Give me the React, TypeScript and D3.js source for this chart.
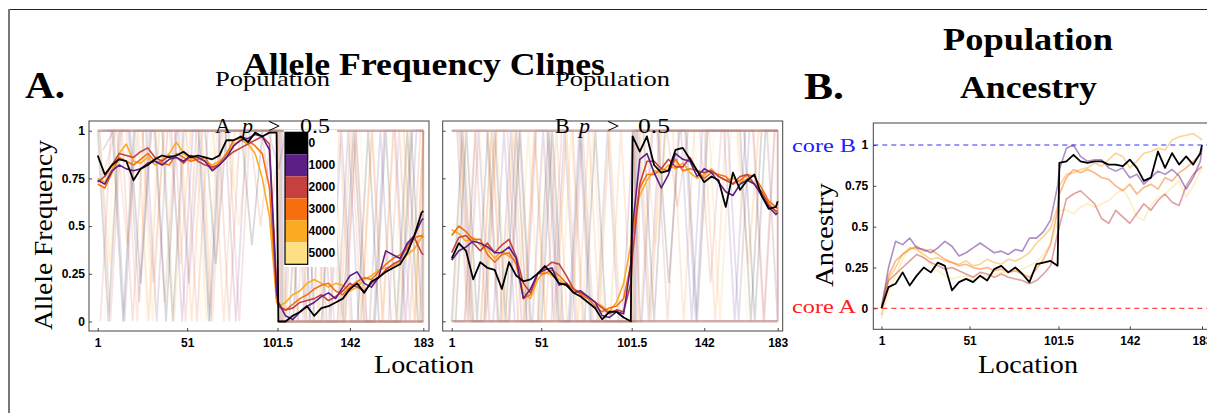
import React, { useEffect, useRef } from "react";
import * as d3 from "d3";

// sampled locations along the transect (dense enough to keep the jaggedness)
const locations = [
  1, 5, 9, 13, 17, 21, 25, 29,
  33, 37, 41, 45, 49, 53, 57, 61,
  65, 69, 73, 77, 81, 85, 89, 93,
  97, 101, 102, 106, 110, 114, 118, 122,
  126, 130, 134, 138, 142, 146, 150, 154,
  158, 162, 166, 170, 174, 178, 182, 183,
];

const generations = ["0", "1000", "2000", "3000", "4000", "5000"];
const genColors = ["#000000", "#5b1f85", "#c6403f", "#f7700f", "#fcaa20", "#fee084"];

const xTicks = [1, 51, 101.5, 142, 183];
const yTicks = [0, 0.25, 0.5, 0.75, 1];
const yTickLabels = ["0", "0.25", "0.5", "0.75", "1"];

// population A, p > 0.5
const a1Gen0 = [
  0.87, 0.77, 0.82, 0.85, 0.84, 0.74, 0.8, 0.82,
  0.85, 0.87, 0.86, 0.87, 0.89, 0.86, 0.87, 0.86,
  0.85, 0.87, 0.95, 0.95, 0.97, 0.94, 0.99, 0.97,
  0.99, 0.99, 0.0, 0.0, 0.03, 0.05, 0.08, 0.03,
  0.07, 0.08, 0.1, 0.12, 0.17, 0.2, 0.15, 0.21,
  0.23, 0.26, 0.28, 0.3, 0.36, 0.45, 0.57, 0.58,
];
const a1Gen1000 = [
  0.74, 0.72, 0.79, 0.82, 0.8, 0.79, 0.8, 0.83,
  0.84, 0.82, 0.85, 0.86, 0.84, 0.87, 0.86, 0.84,
  0.79, 0.82, 0.86, 0.92, 0.95, 0.96, 0.98, 0.97,
  0.9, 0.15, 0.1, 0.03, 0.01, 0.05, 0.08, 0.1,
  0.13, 0.15, 0.12, 0.18, 0.24, 0.26, 0.2, 0.18,
  0.23, 0.37, 0.35, 0.33, 0.41, 0.45, 0.53, 0.54,
];
const a1Gen2000 = [
  0.73, 0.76, 0.82, 0.88, 0.87, 0.86, 0.89, 0.91,
  0.86, 0.84, 0.87, 0.86, 0.83, 0.87, 0.84, 0.82,
  0.81, 0.82, 0.86, 0.89, 0.91, 0.93, 0.95, 0.97,
  0.93, 0.2, 0.08, 0.06, 0.07, 0.1, 0.11, 0.12,
  0.14, 0.11, 0.13, 0.16, 0.2, 0.18, 0.16, 0.2,
  0.23, 0.27, 0.3, 0.32, 0.4, 0.44, 0.36, 0.35,
];
const a1Gen3000 = [
  0.72, 0.7, 0.78, 0.86, 0.84, 0.82, 0.85, 0.88,
  0.84, 0.83, 0.82, 0.88, 0.86, 0.84, 0.85, 0.86,
  0.8, 0.83, 0.88, 0.95, 0.96, 0.95, 0.92, 0.88,
  0.7, 0.12, 0.08, 0.06, 0.09, 0.12, 0.14, 0.17,
  0.19, 0.2, 0.16, 0.14, 0.18, 0.21, 0.23, 0.22,
  0.26, 0.3, 0.33, 0.35, 0.38, 0.44, 0.45, 0.44,
];
const a1Gen4000 = [
  0.75, 0.73, 0.8, 0.88, 0.93, 0.84, 0.83, 0.86,
  0.82, 0.85, 0.88, 0.94, 0.88, 0.85, 0.86, 0.84,
  0.82, 0.84, 0.87, 0.93, 0.95, 0.93, 0.88, 0.75,
  0.55, 0.1, 0.08, 0.1, 0.14, 0.16, 0.2, 0.22,
  0.2, 0.18, 0.2, 0.19, 0.16, 0.18, 0.22, 0.24,
  0.27, 0.28, 0.29, 0.31, 0.35, 0.38, 0.44, 0.46,
];

// population B, p > 0.5
const a2Gen0 = [
  0.33, 0.41, 0.37, 0.22, 0.31, 0.28, 0.27, 0.17,
  0.31, 0.24, 0.21, 0.22, 0.25, 0.29, 0.25, 0.2,
  0.19, 0.15, 0.13, 0.1, 0.07, 0.01, 0.05, 0.05,
  0.02, 0.0, 0.97, 0.89, 0.97, 0.82, 0.78, 0.79,
  0.9, 0.91, 0.85, 0.79, 0.73, 0.76, 0.74, 0.6,
  0.78, 0.69, 0.74, 0.77, 0.66, 0.59, 0.6, 0.63,
];
const a2Gen1000 = [
  0.32, 0.37, 0.39, 0.42, 0.41, 0.39, 0.36, 0.36,
  0.39, 0.33, 0.12, 0.17, 0.25, 0.27, 0.28, 0.19,
  0.2, 0.15, 0.16, 0.13, 0.1, 0.03, 0.02, 0.05,
  0.04, 0.3, 0.5, 0.85, 0.88, 0.78, 0.7, 0.77,
  0.88, 0.85, 0.84, 0.76, 0.8, 0.78, 0.73, 0.68,
  0.66, 0.72, 0.74, 0.72, 0.66, 0.6, 0.56, 0.57,
];
const a2Gen2000 = [
  0.36, 0.44, 0.45, 0.41, 0.37, 0.41, 0.36, 0.4,
  0.43, 0.34, 0.2, 0.15, 0.25, 0.28, 0.31, 0.3,
  0.24, 0.17, 0.15, 0.13, 0.1, 0.07, 0.04, 0.06,
  0.05, 0.2, 0.35, 0.72, 0.84, 0.84, 0.8, 0.85,
  0.81, 0.81, 0.86, 0.79, 0.78, 0.79, 0.76, 0.74,
  0.72, 0.76, 0.77, 0.72, 0.68, 0.61, 0.58, 0.58,
];
const a2Gen3000 = [
  0.45, 0.5, 0.47, 0.43, 0.43, 0.35, 0.31, 0.35,
  0.36, 0.3, 0.12, 0.14, 0.25, 0.25, 0.27, 0.24,
  0.2, 0.17, 0.14, 0.12, 0.08, 0.05, 0.07, 0.08,
  0.12, 0.3, 0.45, 0.7, 0.77, 0.77, 0.8, 0.79,
  0.85, 0.79, 0.8, 0.79, 0.75, 0.78, 0.77, 0.76,
  0.72, 0.74, 0.77, 0.76, 0.7, 0.63, 0.6, 0.59,
];
const a2Gen4000 = [
  0.48, 0.46, 0.42, 0.44, 0.4, 0.38, 0.33, 0.37,
  0.34, 0.32, 0.15, 0.12, 0.22, 0.26, 0.24, 0.22,
  0.19, 0.16, 0.15, 0.13, 0.1, 0.08, 0.05, 0.1,
  0.2, 0.4, 0.5, 0.66, 0.74, 0.79, 0.78, 0.82,
  0.8, 0.83, 0.78, 0.75, 0.77, 0.8, 0.76, 0.74,
  0.75, 0.73, 0.75, 0.72, 0.68, 0.62, 0.57, 0.58,
];

// population ancestry
const ancGen0 = [
  0.0, 0.13, 0.15, 0.22, 0.14, 0.2, 0.25, 0.22,
  0.28, 0.26, 0.11, 0.16, 0.18, 0.16, 0.2, 0.17,
  0.24, 0.26, 0.22, 0.25, 0.21, 0.16, 0.27, 0.28,
  0.29, 0.26, 0.89, 0.9, 0.94, 0.9, 0.89, 0.9,
  0.9, 0.88, 0.88, 0.87, 0.91, 0.86, 0.78, 0.8,
  0.96, 0.86, 0.95, 0.88, 0.93, 0.88, 0.95, 1.0,
];
const ancGen1000 = [
  0.0, 0.25, 0.41, 0.39, 0.43, 0.37, 0.36, 0.34,
  0.37, 0.41, 0.38, 0.32, 0.34, 0.37, 0.4, 0.37,
  0.34, 0.35, 0.33, 0.36, 0.35, 0.43, 0.43, 0.47,
  0.54, 0.75, 0.85, 0.98, 1.0, 0.93, 0.9, 0.91,
  0.91, 0.86, 0.84, 0.86, 0.8, 0.82, 0.76, 0.8,
  0.84, 0.82, 0.85, 0.81, 0.73, 0.8, 0.9, 0.98,
];
const ancGen2000 = [
  0.0, 0.17, 0.21, 0.25, 0.29, 0.33, 0.31, 0.28,
  0.26, 0.24, 0.25, 0.23, 0.21, 0.19, 0.22, 0.21,
  0.19, 0.21, 0.19, 0.18, 0.17, 0.15, 0.17, 0.21,
  0.26, 0.46, 0.5, 0.67, 0.7, 0.72, 0.68, 0.64,
  0.55, 0.52, 0.6, 0.56, 0.52, 0.58, 0.64, 0.6,
  0.66, 0.7, 0.65, 0.63, 0.75, 0.82, 0.86, 0.87,
];
const ancGen3000 = [
  0.02, 0.2, 0.29, 0.33, 0.36, 0.38, 0.35, 0.36,
  0.33, 0.3, 0.28, 0.26, 0.27, 0.25, 0.24, 0.25,
  0.23, 0.24, 0.22, 0.23, 0.21, 0.19, 0.24, 0.3,
  0.39, 0.6, 0.7, 0.8, 0.85, 0.83, 0.85, 0.83,
  0.8, 0.79, 0.75, 0.72, 0.76, 0.7, 0.74, 0.76,
  0.73, 0.8, 0.78, 0.83, 0.86, 0.9, 0.94, 0.95,
];
const ancGen4000 = [
  -0.04, 0.18, 0.25, 0.33, 0.37, 0.36, 0.33, 0.3,
  0.31, 0.29, 0.28, 0.27, 0.29, 0.26, 0.27, 0.3,
  0.28, 0.27, 0.3, 0.29, 0.31, 0.34, 0.4, 0.44,
  0.49, 0.62, 0.75, 0.82, 0.83, 0.85, 0.86, 0.89,
  0.87, 0.91, 0.95, 0.93, 0.86, 0.9, 0.95, 0.96,
  0.98, 0.97, 1.03, 1.05, 1.06, 1.07, 1.04, 1.03,
];
const ancGen5000 = [
  -0.06, 0.1, 0.2, 0.3, 0.37, 0.37, 0.31, 0.27,
  0.23, 0.2, 0.18, 0.19, 0.2, 0.17, 0.19, 0.2,
  0.21, 0.22, 0.22, 0.23, 0.24, 0.26, 0.28, 0.33,
  0.4, 0.52, 0.6, 0.6, 0.58, 0.62, 0.64, 0.62,
  0.64, 0.66, 0.7, 0.73, 0.66, 0.56, 0.54, 0.63,
  0.68, 0.7, 0.74, 0.78, 0.68, 0.75, 0.84, 0.86,
];

// individual replicate traces, coarser sampling
const bgLocations = [
  1, 7, 13, 19, 25, 31, 37, 43, 49, 55, 61, 67, 73, 79, 85, 91, 97, 101,
  102, 108, 114, 120, 126, 132, 138, 144, 150, 156, 162, 168, 174, 180, 183,
];
// each replicate sampled at a slightly different phase along the transect
const bgPhase = [0, 3, 1.5, 4.5, 0.8, 3.8, 2.2, 5.2, 1.1, 4.1];
const bgTracesA = [
  [1, 0, 1, 1, 0.2, 1, 1, 0, 1, 1, 1, 0.3, 1, 1, 1, 1, 1, 1, 0, 0, 1, 0, 0, 0.8, 0, 1, 0, 0, 1, 0, 1, 0, 0],
  [0.9, 1, 0, 1, 1, 0, 1, 1, 0.2, 1, 0, 1, 1, 1, 1, 1, 1, 1, 0, 1, 0, 1, 0, 0, 1, 0, 0, 1, 0, 0, 1, 1, 0],
  [0, 1, 1, 0, 1, 1, 0.1, 1, 1, 0, 1, 1, 0, 1, 1, 1, 0.6, 1, 0, 0, 0, 1, 0, 0, 0, 1, 0, 0, 0, 1, 0, 1, 1],
  [1, 1, 0.4, 1, 0, 1, 1, 1, 0, 1, 1, 0, 1, 1, 1, 1, 1, 1, 1, 0, 1, 0, 1, 0, 1, 0, 1, 0, 1, 0, 0, 1, 1],
  [1, 0.3, 1, 1, 1, 0, 1, 0, 1, 1, 0, 1, 1, 0.5, 1, 1, 1, 1, 0, 0, 0, 0, 0, 1, 0, 0, 0, 0, 0, 0, 1, 0, 0],
  [0, 1, 1, 1, 0, 1, 1, 1, 1, 0, 1, 1, 0.7, 1, 1, 1, 1, 1, 0, 1, 0, 0, 1, 0, 1, 1, 0, 0, 0, 1, 0, 1, 0],
  [1, 1, 0, 1, 1, 1, 0, 1, 1, 1, 0, 1, 1, 1, 0.4, 1, 1, 1, 0, 0, 1, 0, 0, 0, 0, 0, 1, 0, 0, 0, 1, 0, 1],
  [1, 1, 1, 0.1, 1, 1, 1, 0, 1, 1, 1, 1, 0, 1, 1, 1, 0.8, 1, 1, 0, 0, 1, 0, 1, 0, 0, 0, 1, 1, 0, 1, 1, 1],
  [1, 0, 1, 1, 1, 0.2, 1, 1, 0, 1, 1, 1, 1, 0, 1, 0.5, 1, 1, 0, 0, 0, 0, 1, 0, 0, 1, 0, 0, 0, 0, 0, 0, 1],
  [0.8, 1, 1, 0, 1, 1, 1, 0.3, 1, 1, 0, 1, 1, 1, 1, 1, 1, 1, 0, 1, 0, 0, 0, 1, 0, 0, 1, 0, 1, 1, 0, 1, 0],
];
const bgTracesB = [
  [0, 1, 0, 0, 1, 0, 1, 0, 0, 1, 0, 0, 1, 0, 0, 0, 0, 0, 1, 1, 0, 1, 1, 1, 0, 1, 1, 1, 1, 0, 1, 1, 1],
  [1, 0, 1, 0, 0, 1, 0, 0, 1, 0, 1, 0, 0, 0, 1, 0, 0, 0, 1, 0, 1, 1, 1, 0, 1, 1, 1, 0, 1, 1, 1, 0, 1],
  [0, 0, 1, 1, 0, 0, 1, 0, 0, 0, 1, 1, 0, 0, 0, 0, 0, 0, 1, 1, 1, 0, 1, 1, 1, 0.2, 1, 1, 1, 1, 0, 1, 1],
  [1, 0, 0, 1, 0, 1, 0, 1, 0, 1, 0, 0, 1, 0, 0, 1, 0, 0, 0, 1, 1, 1, 0, 1, 1, 1, 1, 1, 0.3, 1, 1, 1, 0],
  [0, 1, 0, 0, 1, 0, 0, 1, 0, 0, 0, 1, 0, 1, 0, 0, 0, 0, 1, 1, 0.4, 1, 1, 1, 1, 1, 0, 1, 1, 1, 1, 1, 1],
  [0.5, 0, 1, 0, 0, 1, 0, 0, 1, 0, 1, 0, 0, 0, 1, 0, 0, 0, 1, 0, 1, 1, 1, 1, 0.5, 1, 1, 1, 0, 1, 1, 0, 1],
  [0, 1, 0, 1, 0, 0, 1, 0, 0, 1, 0, 0, 0, 1, 0, 0, 0, 0, 1, 1, 1, 0.2, 1, 1, 1, 1, 1, 1, 1, 0, 1, 1, 1],
  [1, 0, 0, 0, 1, 0, 0, 1, 1, 0, 0, 1, 0, 0, 0, 0, 1, 0, 0, 1, 1, 1, 1, 0, 1, 1, 1, 0, 1, 1, 1, 1, 0],
  [0, 0, 1, 0, 1, 1, 0, 0, 0, 1, 0, 0, 1, 0, 0, 0, 0, 0, 1, 1, 1, 1, 0.6, 1, 1, 1, 1, 1, 1, 1, 0, 1, 1],
  [1, 0, 0, 1, 0, 0, 0, 1, 0, 0, 1, 0, 0, 0, 1, 0, 0, 0, 1, 0, 1, 1, 1, 1, 1, 0, 1, 1, 1, 1, 1, 1, 1],
];
// replicates fixed at 0 or 1 over a stretch of the transect
const fixedRuns = [
  { panel: 0, value: 1, from: 1, to: 183 },
  { panel: 0, value: 0, from: 101.5, to: 183 },
  { panel: 1, value: 1, from: 1, to: 183 },
  { panel: 1, value: 0, from: 1, to: 183 },
];

const SERIF = "'Liberation Serif', 'Times New Roman', serif";
const SANS = "'Liberation Sans', Arial, sans-serif";

const App = () => {
  const ref = useRef<SVGSVGElement>(null);

  useEffect(() => {
    const svg = d3.select(ref.current);
    svg.selectAll("*").remove();

    // outer frame
    svg.append("line").attr("x1", 8).attr("x2", 1207).attr("y1", 9.5).attr("y2", 9.5)
      .attr("stroke", "#222").attr("stroke-width", 1);
    svg.append("line").attr("x1", 9).attr("x2", 9).attr("y1", 9).attr("y2", 413)
      .attr("stroke", "#777").attr("stroke-width", 2);

    const panels = [
      { left: 89, right: 429, top: 121, bottom: 331, x0: 97.7, x1: 423.3, y0: 321.5, y1: 130.7 },
      { left: 442.7, right: 782.7, top: 121, bottom: 331, x0: 451.7, x1: 777.7, y0: 321.3, y1: 130.7 },
      { left: 873.3, right: 1230, top: 123, bottom: 329.3, x0: 881.5, x1: 1202, y0: 308.3, y1: 145 },
    ];
    const scales = panels.map((p) => ({
      x: d3.scaleLinear().domain([1, 183]).range([p.x0, p.x1]).clamp(true),
      y: d3.scaleLinear().domain([0, 1]).range([p.y0, p.y1]),
    }));

    const lineFor = (i: number, locs: number[], shift = 0) =>
      d3.line<number>()
        .x((d, j) => scales[i].x(locs[j] + shift))
        .y((d) => scales[i].y(d));

    // faint replicate traces
    [bgTracesA, bgTracesB].forEach((traces, i) => {
      const g = svg.append("g");
      traces.forEach((t, k) => {
        g.append("path")
          .attr("d", lineFor(i, bgLocations, bgPhase[k])(t))
          .attr("fill", "none")
          .attr("stroke", genColors[k % 6])
          .attr("stroke-opacity", 0.15)
          .attr("stroke-width", 1.8);
      });
    });
    fixedRuns.forEach((r) => {
      svg.append("line")
        .attr("x1", scales[r.panel].x(r.from))
        .attr("x2", scales[r.panel].x(r.to))
        .attr("y1", scales[r.panel].y(r.value))
        .attr("y2", scales[r.panel].y(r.value))
        .attr("stroke", "#b98c88")
        .attr("stroke-opacity", 0.7)
        .attr("stroke-width", 2.5);
    });

    // frames
    panels.forEach((p) => {
      svg.append("rect")
        .attr("x", p.left).attr("y", p.top)
        .attr("width", p.right - p.left).attr("height", p.bottom - p.top)
        .attr("fill", "none").attr("stroke", "#444").attr("stroke-width", 1);
    });

    // mean clines
    const clines = [
      [a1Gen0, a1Gen1000, a1Gen2000, a1Gen3000, a1Gen4000],
      [a2Gen0, a2Gen1000, a2Gen2000, a2Gen3000, a2Gen4000],
      [ancGen0, ancGen1000, ancGen2000, ancGen3000, ancGen4000, ancGen5000],
    ];
    clines.forEach((set, i) => {
      const g = svg.append("g");
      for (let k = set.length - 1; k >= 0; k--) {
        g.append("path")
          .attr("d", lineFor(i, locations)(set[k]))
          .attr("fill", "none")
          .attr("stroke", genColors[k])
          .attr("stroke-opacity", i === 2 && k > 0 ? 0.5 : 1)
          .attr("stroke-width", k === 0 ? 1.8 : 1.6)
          .attr("stroke-linejoin", "round");
      }
    });

    // core reference lines in panel B
    const sb = scales[2];
    svg.append("line").attr("x1", panels[2].left).attr("x2", 1207)
      .attr("y1", sb.y(1)).attr("y2", sb.y(1))
      .attr("stroke", "#3030ff").attr("stroke-width", 1).attr("stroke-dasharray", "5,4");
    svg.append("line").attr("x1", panels[2].left).attr("x2", 1207)
      .attr("y1", sb.y(0)).attr("y2", sb.y(0))
      .attr("stroke", "#ff2020").attr("stroke-width", 1).attr("stroke-dasharray", "5,4");

    // axes
    panels.forEach((p, i) => {
      const xAxis = d3.axisBottom(scales[i].x)
        .tickValues(xTicks)
        .tickFormat((d) => String(d))
        .tickSizeInner(-3).tickSizeOuter(0).tickPadding(7);
      const gx = svg.append("g").attr("transform", "translate(0," + p.bottom + ")").call(xAxis);
      gx.select(".domain").remove();
      gx.attr("font-size", 12).attr("font-family", SANS).attr("font-weight", "bold")
        .attr("color", "#444");
      gx.selectAll("text").attr("fill", "#000");

      const yAxis = d3.axisLeft(scales[i].y)
        .tickValues(yTicks)
        .tickFormat((d, j) => (i === 1 ? "" : yTickLabels[j]))
        .tickSizeInner(-3).tickSizeOuter(0).tickPadding(i === 2 ? 5 : 4);
      const gy = svg.append("g").attr("transform", "translate(" + p.left + ",0)").call(yAxis);
      gy.select(".domain").remove();
      gy.attr("font-size", 12).attr("font-family", SANS).attr("font-weight", "bold")
        .attr("color", "#444");
      gy.selectAll("text").attr("fill", "#000");
    });

    // legend
    const legendY = d3.scaleBand<string>().domain(generations).range([132.3, 264.3]);
    const lg = svg.append("g");
    lg.append("rect").attr("x", 284).attr("y", 130).attr("width", 53).attr("height", 137)
      .attr("fill", "#fff");
    generations.forEach((gen, k) => {
      lg.append("rect").attr("x", 285).attr("y", legendY(gen)!)
        .attr("width", 22.7).attr("height", legendY.bandwidth())
        .attr("fill", genColors[k]);
      lg.append("text").attr("x", 308.5).attr("y", legendY(gen)! + legendY.bandwidth() / 2)
        .attr("dominant-baseline", "central")
        .attr("font-family", SANS).attr("font-weight", "bold").attr("font-size", 12)
        .text(gen);
    });
    lg.append("rect").attr("x", 285).attr("y", 132.3).attr("width", 22.7).attr("height", 132)
      .attr("fill", "none").attr("stroke", "#000").attr("stroke-width", 1.2);

    // texts
    const txt = (x: number, y: number, s: string, size: number, opts: any = {}) => {
      const t = svg.append("text").attr("x", x).attr("y", y)
        .attr("font-family", SERIF).attr("font-size", size)
        .attr("font-weight", opts.bold ? "bold" : "normal")
        .attr("fill", opts.color || "#000")
        .attr("text-anchor", opts.anchor || "start")
        .text(s);
      if (opts.len) t.attr("textLength", opts.len).attr("lengthAdjust", "spacingAndGlyphs");
      if (opts.rotate) t.attr("transform", "rotate(-90," + x + "," + y + ")");
      if (opts.italic) t.attr("font-style", "italic");
      return t;
    };

    txt(25, 98, "A.", 38, { bold: true, len: 40 });
    txt(804, 99, "B.", 38, { bold: true, len: 40 });
    txt(243, 75, "Allele Frequency Clines", 32, { bold: true, len: 362 });
    txt(943, 50, "Population", 32, { bold: true, len: 170 });
    txt(960, 98, "Ancestry", 32, { bold: true, len: 137 });

    txt(215, 86, "Population", 22, { len: 115 });
    txt(215, 133, "A", 22);
    txt(242, 133, "p", 22, { italic: true });
    txt(268, 133, ">", 22);
    txt(300, 133, "0.5", 22, { len: 30 });

    txt(555, 86, "Population", 22, { len: 115 });
    txt(555, 133, "B", 22);
    txt(579, 133, "p", 22, { italic: true });
    txt(607, 133, ">", 22);
    txt(638, 133, "0.5", 22, { len: 32 });

    txt(52, 235, "Allele Frequency", 25, { anchor: "middle", rotate: true, len: 190 });
    txt(833, 235, "Ancestry", 25, { anchor: "middle", rotate: true, len: 104 });
    txt(424, 373, "Location", 25, { anchor: "middle", len: 100 });
    txt(1028, 373, "Location", 25, { anchor: "middle", len: 100 });

    txt(792, 152, "core B", 19, { color: "#2020ff", len: 64 });
    txt(792, 313, "core A", 19, { color: "#ff2020", len: 64 });
  }, []);

  return (
    <svg
      ref={ref}
      width={1207}
      height={413}
      style={{ position: "absolute", left: 0, top: 0, background: "#fff" }}
    />
  );
};

export default App;
